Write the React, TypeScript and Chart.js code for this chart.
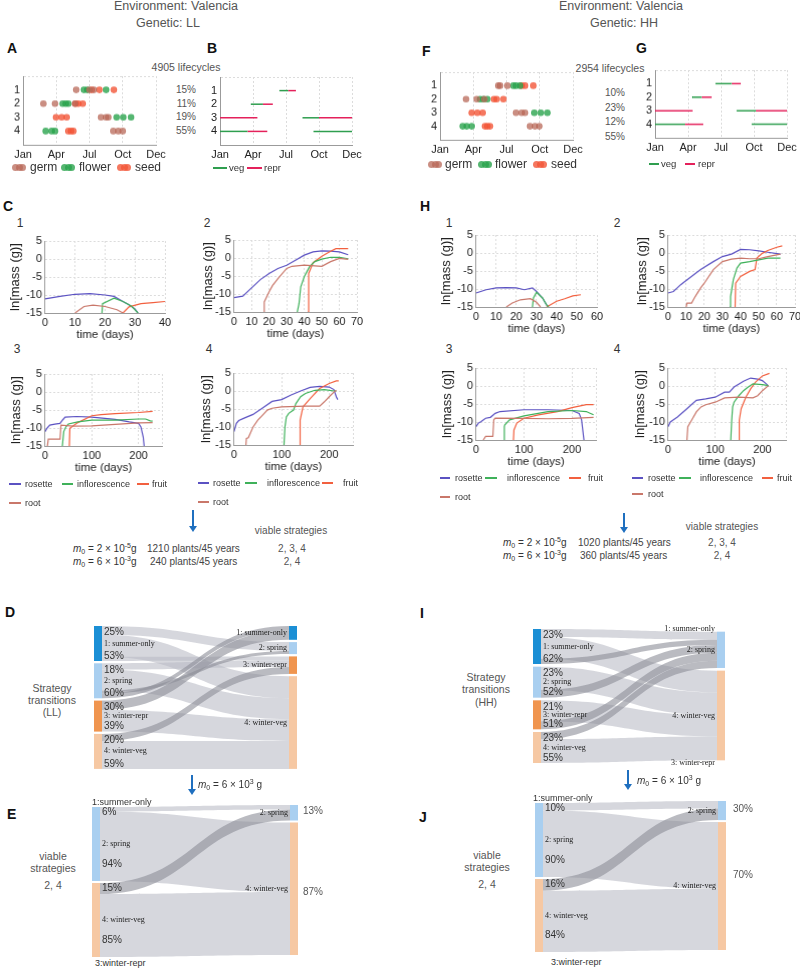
import React, { useEffect, useRef } from 'react';
import { Chart, registerables } from 'chart.js';

Chart.register(...registerables);
const SANS = '"Liberation Sans", Arial, Helvetica, sans-serif';
const SERIF = '"Liberation Serif", "Times New Roman", Times, serif';
Chart.defaults.font.family = SANS;

// ======================= DATA =======================
const MONTH_TICKS = [0, 3, 6, 9, 12];
const MONTH_LABELS = ['Jan', 'Apr', 'Jul', 'Oct', 'Dec'];
const ROW_TICKS = [0, 1, 2, 3, 4, 5];
const MASS_TICKS = [-15, -10, -5, 0, 5];

// Panel A (LL): month of germination / flowering / seed per strategy row (1..4)
const A_GERM = [[4.8, 6.0, 6.4], [1.84, 2.89, 4.69], [7.04, 7.49, 7.7], [8.15, 8.6, 9.0]];
const A_FLOWER = [[5.5, 5.8, 7.5], [3.58, 3.85, 4.09], [8.45, 9.05, 9.75], [2.05, 2.59, 2.89]];
const A_SEED = [[6.2, 6.9, 8.2], [4.75, 4.99, 5.39], [2.98, 3.49, 3.94], [4.09, 4.33, 4.54]];
const A_SHARE = ['15%', '11%', '19%', '55%'];
const A_COUNT = '4905 lifecycles';

// Panel F (HH)
const F_GERM = [[5.26, 5.42, 6.08], [2.35, 3.31, 4.0], [6.86, 7.37, 7.67], [8.12, 8.57, 8.96]];
const F_FLOWER = [[6.62, 6.86, 7.22], [3.61, 3.91, 4.27], [8.51, 9.09, 9.69], [2.05, 2.41, 2.86]];
const F_SEED = [[7.37, 7.67, 8.42], [4.87, 5.11, 5.72], [2.86, 3.37, 3.85], [4.06, 4.27, 4.51]];
const F_SHARE = ['10%', '23%', '12%', '55%'];
const F_COUNT = '2954 lifecycles';

// Panels B / G: [row, startMonth, endMonth]
const B_VEG = [[1, 5.4, 6.2], [2, 2.8, 3.9], [3, 7.5, 9.0], [4, 0, 2.5], [4, 8.5, 12]];
const B_REPR = [[1, 6.2, 6.9], [2, 3.9, 4.8], [3, 0, 3.4], [3, 9.0, 12], [4, 2.5, 4.3]];
const G_VEG = [[1, 5.5, 6.97], [2, 3.36, 4.24], [3, 7.42, 9.18], [4, 0, 2.73], [4, 8.79, 12]];
const G_REPR = [[1, 6.97, 7.8], [2, 4.24, 5.15], [3, 0, 3.42], [3, 9.18, 12], [4, 2.73, 4.39]];

// Panels C / H: [time (days), ln mass (g)]
const C1_ROSETTE = [[0, -11.1], [5, -10.4], [10, -9.8], [15, -9.6], [20, -10], [23, -10.4], [26, -11.8], [28, -12.7], [30, -13.9], [31, -15]];
const C1_ROOT = [[10, -15], [13, -13.2], [16, -12.8], [20, -13.2], [24, -14.1], [26, -15]];
const C1_INFL = [[19, -15], [19.2, -12.4], [23, -10.9], [26, -11.8], [29, -13.2], [31, -15]];
const C1_FRUIT = [[26, -15], [28, -13.3], [32, -12.4], [36, -12.1], [40, -11.8]];

const C2_ROSETTE = [[0, -11], [5, -10.6], [10, -8.3], [15, -6], [20, -4.3], [25, -2.9], [30, -2], [35, -0.6], [40, 0.8], [45, 1.7], [50, 2.0], [55, 1.9], [60, 1.7], [65, 0.9]];
const C2_ROOT = [[17, -15], [17.2, -12.2], [20, -9.4], [22, -7.6], [25, -5.7], [30, -2.9], [33, -2.3], [40, -2], [50, -2.3], [55, -1.0], [60, -0.1], [65, -0.4]];
const C2_INFL = [[36, -15], [37, -12.7], [38, -8], [40, -5.2], [43, -2.4], [46, -1], [50, -0.3], [55, 0.2], [60, 0.2], [65, -0.2]];
const C2_FRUIT = [[42, -15], [42.5, -4.3], [45, -1.3], [50, 0.5], [55, 1.9], [58, 2.6], [65, 2.6]];

const C3_ROSETTE = [[0, -11], [4, -10.1], [10, -9.2], [21, -8.9], [32, -8.7], [38, -7.7], [43, -7], [68, -6.8], [100, -7.0], [150, -7.6], [180, -8.3], [200, -8.7], [205, -9.7], [210, -12.5], [212, -15]];
const C3_ROOT = [[5, -15], [7, -13.1], [25, -13.1], [32, -13.1], [34, -9.2], [60, -9.5], [100, -9.4], [150, -9], [200, -8.6], [230, -8.5]];
const C3_INFL = [[37, -15], [40, -11], [45, -9.6], [50, -8.9], [70, -8.3], [100, -7.8], [150, -7.8], [200, -7.5], [215, -7.5], [225, -8.0], [230, -8.1]];
const C3_FRUIT = [[52, -15], [53, -10.1], [70, -8.5], [100, -6.6], [120, -6.3], [150, -6.0], [200, -5.7], [230, -5.4]];

const C4_ROSETTE = [[0, -11.3], [5, -9], [10, -8.2], [20, -7.6], [40, -6.5], [60, -4.7], [80, -2.9], [100, -2.4], [120, -1.1], [140, 0], [160, 1.0], [180, 1.3], [200, 1.1], [210, 0.4], [215, -1.6], [218, -2.4]];
const C4_ROOT = [[25, -15], [26, -13.2], [30, -13], [40, -10], [50, -8.1], [60, -6.7], [70, -5.3], [80, -4.8], [100, -4.4], [150, -4.2], [180, -4.2], [190, -3.0], [200, -1.6], [210, -0.3], [215, 0.2]];
const C4_INFL = [[105, -15], [107, -10], [110, -7.2], [115, -6.2], [125, -5.3], [130, -3.5], [140, -1.6], [150, -0.7], [170, 0.2], [190, 0.4], [210, 0], [215, 0]];
const C4_FRUIT = [[138, -15], [139, -8.1], [145, -4.4], [160, -2.1], [180, 0.7], [200, 2.1], [215, 2.8], [220, 2.8]];

const H1_ROSETTE = [[0, -11.1], [5, -10.2], [10, -9.7], [15, -9.6], [20, -9.7], [24, -10.2], [28, -9.7], [30, -10.7], [33, -12.5], [35, -14.4], [36, -15]];
const H1_ROOT = [[15, -15], [18, -13.9], [22, -13.0], [27, -12.7], [30, -13.7], [32, -15]];
const H1_INFL = [[28, -15], [28.5, -12.5], [30, -10.9], [33, -12.5], [35, -14.4], [36, -15]];
const H1_FRUIT = [[35, -15], [40, -13.4], [44, -12.7], [48, -11.9], [52, -11.6]];

const H2_ROSETTE = [[0, -11.1], [3, -10.7], [7, -8.8], [12, -6.9], [18, -4.6], [25, -2.4], [30, -1.0], [35, -0.3], [40, 1.0], [45, 0.9], [50, 0.6], [55, 0.2], [62, -0.3]];
const H2_ROOT = [[10, -15], [10.5, -13.9], [13, -13.9], [15, -12.1], [18, -9.7], [20, -8.4], [25, -4.6], [30, -2.4], [35, -1.7], [40, -1.4], [45, -1.6], [50, -1.6], [55, -1.0], [62, -0.3]];
const H2_INFL = [[34, -15], [34.5, -12.1], [36, -7.4], [38, -4.2], [40, -2.8], [45, -2.4], [50, -1.9], [55, -1.4], [62, -1.4]];
const H2_FRUIT = [[37, -15], [37.3, -8.4], [40, -6.5], [45, -5.1], [48, -4.6], [49, -1.4], [52, -0.1], [55, 0.7], [60, 1.6], [63, 2.0]];

const H3_ROSETTE = [[0, -11.3], [5, -10.3], [10, -9.9], [20, -8.95], [30, -8.7], [40, -7.6], [50, -7.1], [100, -6.6], [150, -6.6], [200, -6.8], [215, -7.6], [220, -9.4], [225, -15]];
const H3_ROOT = [[15, -15], [20, -14], [35, -14], [37, -9.4], [40, -8.95], [100, -9.0], [150, -9.1], [200, -9.0], [245, -8.7]];
const H3_INFL = [[58, -15], [59, -11.3], [60, -10.8], [70, -9.4], [100, -8.3], [150, -7.1], [200, -6.8], [230, -7.1], [240, -7.7], [245, -8.0]];
const H3_FRUIT = [[78, -15], [79, -12.2], [85, -10.3], [100, -8.95], [130, -8], [170, -7.1], [200, -6.0], [230, -5.2], [245, -5.2]];

const H4_ROSETTE = [[0, -11.3], [5, -10], [10, -9.5], [20, -8.6], [40, -6.3], [60, -4], [80, -3.6], [100, -3.1], [120, -1.7], [130, -1.7], [140, -0.3], [160, 1.3], [175, 2.2], [190, 1.9], [200, 1.5], [210, 0.4], [213, -0.1]];
const H4_ROOT = [[40, -15], [42, -11.3], [50, -9.5], [60, -7.2], [70, -5.8], [80, -5.2], [100, -4.5], [120, -3.3], [150, -3.1], [180, -3.3], [190, -2.7], [200, -1.3], [213, 0.1]];
const H4_INFL = [[133, -15], [135, -9.5], [137, -5.8], [140, -4.5], [150, -2.7], [160, -1.3], [170, -0.3], [180, 0.6], [200, 0.4], [213, 0.1]];
const H4_FRUIT = [[150, -15], [151, -9.5], [155, -6.3], [165, -3.1], [175, -0.8], [185, 1.0], [200, 2.8], [215, 3.5]];

// Sankey panels: flows [sourceStrategy, targetStrategy, share]
const STRATEGY_NAMES = ['1: summer-only', '2: spring', '3: winter-repr', '4: winter-veg'];
const D_FLOWS = [[0, 1, 8.8], [0, 3, 22.0], [0, 2, 4.2], [1, 2, 6.3], [1, 3, 21.0], [1, 1, 3.2], [1, 0, 4.5], [2, 0, 9.3], [2, 3, 21.7], [3, 2, 7.0], [3, 3, 28.0]];
const D_TOP_PCT = ['25%', '18%', '30%', '20%'];
const D_BOT_PCT = ['53%', '60%', '39%', '59%'];
const I_FLOWS = [[0, 1, 8.0], [0, 3, 21.7], [0, 1, 5.3], [1, 3, 23.2], [1, 1, 7.8], [2, 3, 20.9], [2, 1, 8.1], [3, 1, 7.1], [3, 3, 23.9]];
const I_TOP_PCT = ['23%', '23%', '21%', '23%'];
const I_BOT_PCT = ['62%', '52%', '51%', '55%'];
const E_FLOWS = [[1, 1, 4.4], [1, 3, 69.6], [3, 1, 11.1], [3, 3, 62.9]];
const E_TOP_PCT = ['', '6%', '', '15%'];
const E_BOT_PCT = ['', '94%', '', '85%'];
const E_RIGHT_PCT = ['13%', '87%'];
const J_FLOWS = [[1, 1, 7.4], [1, 3, 66.6], [3, 1, 11.7], [3, 3, 61.3]];
const J_TOP_PCT = ['', '10%', '', '16%'];
const J_BOT_PCT = ['', '90%', '', '84%'];
const J_RIGHT_PCT = ['30%', '70%'];

// ======================= STYLE =======================
const GERM_C = 'rgba(184,104,88,0.75)';
const FLOWER_C = 'rgba(42,164,78,0.8)';
const SEED_C = 'rgba(242,86,56,0.8)';
const VEG_C = '#2f9e4f';
const REPR_C = '#e4215b';
const ROSETTE_C = '#5b52c2';
const INFL_C = '#3fb15a';
const FRUIT_C = '#f2603f';
const ROOT_C = '#c9776a';
const NODE_COLORS = ['#1b8fd5', '#a9cff0', '#f0954f', '#f6c8a3'];
const GRID = '#dcdcdc';
const AXIS = '#9b9b9b';
const TXT = '#444';
const PT = 10;
const PR = 16;

type Box = { left: number; top: number; width: number; height: number };

function frame(pl: number, pt: number, pr: number, pb: number, yw: number, xh: number): Box {
  return { left: pl - yw, top: pt - PT, width: pr - pl + yw + PR, height: pb - pt + PT + xh };
}

function linAxis(o: any) {
  return {
    type: 'linear',
    min: o.min,
    max: o.max,
    reverse: !!o.reverse,
    afterBuildTicks: (s: any) => { s.ticks = o.ticks.map((v: number) => ({ value: v })); },
    afterFit: (s: any) => { if (o.horizontal) s.height = o.size; else s.width = o.size; },
    ticks: {
      autoSkip: false, maxRotation: 0, padding: 3, color: '#222', font: { size: 11 },
      callback: (v: number) => (o.labels ? o.labels(v) : String(v)),
    },
    grid: {
      drawTicks: false, lineWidth: 1,
      color: (c: any) => (o.gridWhen && !o.gridWhen(c.tick ? c.tick.value : 0) ? 'rgba(0,0,0,0)' : GRID),
    },
    border: { display: true, color: AXIS, width: 1, dash: [2, 2] },
    title: o.title
      ? { display: true, text: o.title.text, color: '#222', font: { size: o.title.size }, padding: { top: 4, bottom: 4 } }
      : { display: false },
  };
}

function cartesian(datasets: any[], x: any, y: any) {
  return {
    type: 'scatter',
    data: { datasets },
    options: {
      responsive: false,
      animation: false,
      events: [],
      layout: { padding: { top: PT, right: PR, left: 0, bottom: 0 } },
      scales: { x, y },
      plugins: { legend: { display: false }, tooltip: { enabled: false } },
    },
  };
}

function ChartCanvas({ box, build }: { box: Box; build: () => any }) {
  const ref = useRef<HTMLCanvasElement>(null);
  useEffect(() => {
    const chart = new Chart(ref.current as HTMLCanvasElement, build());
    return () => chart.destroy();
  }, []);
  return (
    <div style={{ position: 'absolute', left: box.left, top: box.top, width: box.width, height: box.height }}>
      <canvas ref={ref} width={box.width} height={box.height} style={{ width: box.width, height: box.height, display: 'block' }} />
    </div>
  );
}

// ---- Phenology panels ----
function monthAxis() {
  return linAxis({ min: 0, max: 12, ticks: MONTH_TICKS, labels: (v: number) => MONTH_LABELS[MONTH_TICKS.indexOf(v)] || '', horizontal: true, size: 20 });
}
function rowAxis() {
  return linAxis({ min: 0, max: 5, reverse: true, ticks: ROW_TICKS, labels: (v: number) => (v >= 1 && v <= 4 ? String(v) : ''), horizontal: false, size: 20, gridWhen: (v: number) => v === 0 });
}
function dotsConfig(germ: number[][], flower: number[][], seed: number[][]) {
  const mk = (arr: number[][], color: string) => ({
    data: arr.flatMap((row, i) => row.map((x) => ({ x, y: i + 1 }))),
    backgroundColor: color, borderWidth: 0, pointRadius: 3.3, showLine: false,
  });
  return cartesian([mk(germ, GERM_C), mk(flower, FLOWER_C), mk(seed, SEED_C)], monthAxis(), rowAxis());
}
function phaseConfig(veg: number[][], repr: number[][]) {
  const mk = (s: number[], color: string) => ({
    data: [{ x: s[1], y: s[0] }, { x: s[2], y: s[0] }],
    showLine: true, borderColor: color, borderWidth: 1.5, pointRadius: 0, borderCapStyle: 'butt',
  });
  return cartesian([...veg.map((s) => mk(s, VEG_C)), ...repr.map((s) => mk(s, REPR_C))], monthAxis(), rowAxis());
}

// ---- Growth panels ----
function growthConfig(rosette: number[][], infl: number[][], fruit: number[][], root: number[][], xMax: number, xTicks: number[], yw: number, xh: number) {
  const mk = (pts: number[][], color: string) => ({
    data: pts.map(([x, y]) => ({ x, y })), showLine: true, borderColor: color, borderWidth: 1.2, pointRadius: 0, tension: 0,
  });
  const x = linAxis({ min: 0, max: xMax, ticks: xTicks, labels: (v: number) => (v === xMax && xMax === 250 ? '' : String(v)), horizontal: true, size: xh, title: { text: 'time (days)', size: 11.5 } });
  const y = linAxis({ min: -15, max: 5, ticks: MASS_TICKS, horizontal: false, size: yw, title: { text: 'ln[mass (g)]', size: 13 } });
  return cartesian([mk(root, ROOT_C), mk(infl, INFL_C), mk(fruit, FRUIT_C), mk(rosette, ROSETTE_C)], x, y);
}

// ---- Sankey panels ----
type SankeySpec = {
  flows: number[][]; leftOrder: number[]; rightOrder: number[]; gap: number;
  leftNames: string[]; rightNames: string[]; topPct: string[]; botPct: string[]; mode: 'stack' | 'spread';
};
const SP = 12;
const NW = 8;
function sankeyExtent(sk: SankeySpec) {
  const out = [0, 0, 0, 0], inn = [0, 0, 0, 0];
  sk.flows.forEach(([s, t, v]) => { out[s] += v; inn[t] += v; });
  const l = sk.leftOrder.reduce((a, id) => a + out[id], 0) + sk.gap * (sk.leftOrder.length - 1);
  const r = sk.rightOrder.reduce((a, id) => a + inn[id], 0) + sk.gap * (sk.rightOrder.length - 1);
  return Math.max(l, r);
}
function drawSankey(chart: any, sk: SankeySpec) {
  const ctx = chart.ctx;
  const xs = chart.scales.x, ys = chart.scales.y;
  const xL = xs.getPixelForValue(0), xR = xs.getPixelForValue(1);
  const out = [0, 0, 0, 0], inn = [0, 0, 0, 0];
  sk.flows.forEach(([s, t, v]) => { out[s] += v; inn[t] += v; });
  const lTop: number[] = [0, 0, 0, 0], rTop: number[] = [0, 0, 0, 0];
  let acc = 0;
  sk.leftOrder.forEach((id, i) => { if (i) acc += sk.gap; lTop[id] = acc; acc += out[id]; });
  acc = 0;
  sk.rightOrder.forEach((id, i) => { if (i) acc += sk.gap; rTop[id] = acc; acc += inn[id]; });
  const sCur = lTop.slice(), tCur = rTop.slice();
  const sStart: number[] = [], tStart: number[] = [];
  sk.flows.forEach(([s, , v], k) => { sStart[k] = sCur[s]; sCur[s] += v; });
  sk.flows.map((_, k) => k)
    .sort((a, b) => (sk.leftOrder.indexOf(sk.flows[a][0]) - sk.leftOrder.indexOf(sk.flows[b][0])) || a - b)
    .forEach((k) => { const t = sk.flows[k][1], v = sk.flows[k][2]; tStart[k] = tCur[t]; tCur[t] += v; });
  const Y = (v: number) => ys.getPixelForValue(v);
  const x0 = xL + NW, x1 = xR - NW, xm = (x0 + x1) / 2;
  ctx.save();
  sk.flows.forEach(([, , v], k) => {
    const a0 = Y(sStart[k]), a1 = Y(sStart[k] + v), b0 = Y(tStart[k]), b1 = Y(tStart[k] + v);
    ctx.beginPath();
    ctx.moveTo(x0, a0);
    ctx.bezierCurveTo(xm, a0, xm, b0, x1, b0);
    ctx.lineTo(x1, b1);
    ctx.bezierCurveTo(xm, b1, xm, a1, x0, a1);
    ctx.closePath();
    const rise = (a0 + a1) / 2 - (b0 + b1) / 2;
    ctx.fillStyle = rise > 12 ? 'rgba(140,142,152,0.6)' : 'rgba(184,186,197,0.58)';
    ctx.fill();
  });
  sk.leftOrder.forEach((id) => {
    if (out[id] > 0) { ctx.fillStyle = NODE_COLORS[id]; ctx.fillRect(xL, Y(lTop[id]), NW, Y(lTop[id] + out[id]) - Y(lTop[id])); }
  });
  sk.rightOrder.forEach((id) => {
    if (inn[id] > 0) { ctx.fillStyle = NODE_COLORS[id]; ctx.fillRect(xR - NW, Y(rTop[id]), NW, Y(rTop[id] + inn[id]) - Y(rTop[id])); }
  });
  ctx.textBaseline = 'middle';
  sk.leftOrder.forEach((id) => {
    const top = Y(lTop[id]), bot = Y(lTop[id] + out[id]), mid = (top + bot) / 2;
    const tx = xL + NW + 2;
    ctx.textAlign = 'left';
    if (sk.leftNames[id]) { ctx.fillStyle = '#222'; ctx.font = `8px ${SERIF}`; ctx.fillText(sk.leftNames[id], tx, mid); }
    ctx.fillStyle = '#333';
    ctx.font = `10px ${SANS}`;
    if (sk.topPct[id]) ctx.fillText(sk.topPct[id], tx, top + (sk.mode === 'stack' ? 6.5 : 5));
    if (sk.botPct[id]) ctx.fillText(sk.botPct[id], tx, sk.mode === 'stack' ? bot - 5 : mid + 20);
  });
  sk.rightOrder.forEach((id) => {
    if (!sk.rightNames[id]) return;
    const top = Y(rTop[id]), bot = Y(rTop[id] + inn[id]);
    ctx.textAlign = 'right';
    ctx.fillStyle = '#222';
    ctx.font = `8px ${SERIF}`;
    ctx.fillText(sk.rightNames[id], xR - NW - 2, (top + bot) / 2);
  });
  ctx.restore();
}
function Sankey({ xL, xR, yTop, spec }: { xL: number; xR: number; yTop: number; spec: SankeySpec }) {
  const ext = sankeyExtent(spec);
  const box = { left: xL - SP, top: yTop - SP, width: xR - xL + 2 * SP, height: Math.round(ext) + 2 * SP };
  const build = () => ({
    type: 'scatter',
    data: { datasets: [{ data: [] }] },
    options: {
      responsive: false, animation: false, events: [],
      layout: { padding: SP },
      scales: {
        x: { type: 'linear', min: 0, max: 1, display: false },
        y: { type: 'linear', min: 0, max: Math.round(ext), reverse: true, display: false },
      },
      plugins: { legend: { display: false }, tooltip: { enabled: false } },
    },
    plugins: [{ id: 'sankey', afterDatasetsDraw: (c: any) => drawSankey(c, spec) }],
  });
  return <ChartCanvas box={box} build={build} />;
}

// ---- HTML text helpers ----
function Tx({ x, y, s, size = 11, align = 'left', color = TXT, bold = false, family = SANS }: any) {
  return (
    <div style={{
      position: 'absolute', left: x, top: y - size * 0.6, fontSize: size, lineHeight: `${size * 1.2}px`,
      transform: align === 'center' ? 'translateX(-50%)' : align === 'right' ? 'translateX(-100%)' : undefined,
      whiteSpace: 'nowrap', color, fontFamily: family, fontWeight: bold ? 700 : 400,
    }}>{s}</div>
  );
}
function M0({ x, y, mant, exp, space = false }: any) {
  return (
    <div style={{ position: 'absolute', left: x, top: y - 6, fontSize: 10, lineHeight: '12px', color: '#333', fontFamily: SANS, whiteSpace: 'nowrap' }}>
      <i>m</i><span style={{ fontSize: 7, position: 'relative', top: 2 }}>0</span> = {mant} × 10<span style={{ fontSize: 7, position: 'relative', top: -4 }}>{exp}</span>{space ? ' g' : 'g'}
    </div>
  );
}
function Arrow({ x, y0, y1 }: any) {
  return (
    <>
      <div style={{ position: 'absolute', left: x - 1, top: y0, width: 2, height: y1 - y0 - 5, background: '#1f6fbf' }} />
      <div style={{ position: 'absolute', left: x - 4, top: y1 - 6, width: 0, height: 0, borderLeft: '4px solid transparent', borderRight: '4px solid transparent', borderTop: '6px solid #1f6fbf' }} />
    </>
  );
}
function LineKey({ x, w, y, color, label, tx, size = 9 }: any) {
  return (
    <>
      <div style={{ position: 'absolute', left: x, top: y - 0.75, width: w, height: 1.5, background: color }} />
      <Tx x={tx} y={y} s={label} size={size} color="#333" />
    </>
  );
}
function DotKey({ x, y, color, label, tx }: any) {
  return (
    <>
      {[0, 1, 2].map((i) => (
        <div key={i} style={{ position: 'absolute', left: x + i * 3.5, top: y - 3.5, width: 7, height: 7, borderRadius: '50%', background: color }} />
      ))}
      <Tx x={tx} y={y} s={label} size={12} color="#333" />
    </>
  );
}

const STEP10 = (max: number) => Array.from({ length: max / 10 + 1 }, (_, i) => i * 10);

export default function App() {
  const yw = (off: number) => off + 11.8;
  const XH = 33;
  const growth = [
    { f: frame(45, 241, 165, 313, yw(29), XH), c: () => growthConfig(C1_ROSETTE, C1_INFL, C1_FRUIT, C1_ROOT, 40, STEP10(40), yw(29), XH) },
    { f: frame(234, 240, 357, 312, yw(25), XH), c: () => growthConfig(C2_ROSETTE, C2_INFL, C2_FRUIT, C2_ROOT, 70, STEP10(70), yw(25), XH) },
    { f: frame(45, 374, 162, 446, yw(28), XH), c: () => growthConfig(C3_ROSETTE, C3_INFL, C3_FRUIT, C3_ROOT, 250, [0, 100, 200, 250], yw(28), XH) },
    { f: frame(234, 373, 353, 445, yw(27), XH), c: () => growthConfig(C4_ROSETTE, C4_INFL, C4_FRUIT, C4_ROOT, 250, [0, 100, 200, 250], yw(27), XH) },
    { f: frame(476, 235, 597, 307, yw(29), XH), c: () => growthConfig(H1_ROSETTE, H1_INFL, H1_FRUIT, H1_ROOT, 60, STEP10(60), yw(29), XH) },
    { f: frame(668, 235, 795, 307, yw(25), XH), c: () => growthConfig(H2_ROSETTE, H2_INFL, H2_FRUIT, H2_ROOT, 70, STEP10(70), yw(25), XH) },
    { f: frame(476, 368, 596, 440, yw(28), XH), c: () => growthConfig(H3_ROSETTE, H3_INFL, H3_FRUIT, H3_ROOT, 250, [0, 100, 200, 250], yw(28), XH) },
    { f: frame(668, 368, 786, 440, yw(27), XH), c: () => growthConfig(H4_ROSETTE, H4_INFL, H4_FRUIT, H4_ROOT, 250, [0, 100, 200, 250], yw(27), XH) },
  ];
  const dSpec: SankeySpec = { flows: D_FLOWS, leftOrder: [0, 1, 2, 3], rightOrder: [0, 1, 2, 3], gap: 2.3, leftNames: STRATEGY_NAMES, rightNames: STRATEGY_NAMES, topPct: D_TOP_PCT, botPct: D_BOT_PCT, mode: 'stack' };
  const iSpec: SankeySpec = { flows: I_FLOWS, leftOrder: [0, 1, 2, 3], rightOrder: [0, 1, 3, 2], gap: 2.67, leftNames: STRATEGY_NAMES, rightNames: STRATEGY_NAMES, topPct: I_TOP_PCT, botPct: I_BOT_PCT, mode: 'stack' };
  const viableNames = ['', STRATEGY_NAMES[1], '', STRATEGY_NAMES[3]];
  const eSpec: SankeySpec = { flows: E_FLOWS, leftOrder: [0, 1, 3, 2], rightOrder: [1, 3], gap: 2, leftNames: viableNames, rightNames: viableNames, topPct: E_TOP_PCT, botPct: E_BOT_PCT, mode: 'spread' };
  const jSpec: SankeySpec = { flows: J_FLOWS, leftOrder: [0, 1, 3, 2], rightOrder: [1, 3], gap: 2, leftNames: viableNames, rightNames: viableNames, topPct: J_TOP_PCT, botPct: J_BOT_PCT, mode: 'spread' };

  const growthKeys = (cfg: any) => (
    <>
      <LineKey x={cfg.r[0]} w={cfg.r[1]} y={cfg.y1} color={ROSETTE_C} label="rosette" tx={cfg.r[2]} />
      <LineKey x={cfg.i[0]} w={cfg.i[1]} y={cfg.y1} color={INFL_C} label="inflorescence" tx={cfg.i[2]} />
      <LineKey x={cfg.f[0]} w={cfg.f[1]} y={cfg.y1} color={FRUIT_C} label="fruit" tx={cfg.f[2]} />
      <LineKey x={cfg.r[0]} w={cfg.r[1]} y={cfg.y2} color={ROOT_C} label="root" tx={cfg.r[2]} />
    </>
  );

  return (
    <div style={{ position: 'absolute', left: 0, top: 0, width: 800, height: 969, overflow: 'hidden', background: '#fff', fontFamily: SANS }}>
      {/* headers */}
      <Tx x={176} y={6} s="Environment: Valencia" size={12.5} align="center" color="#555" />
      <Tx x={168} y={23} s="Genetic: LL" size={12.5} align="center" color="#555" />
      <Tx x={621} y={6} s="Environment: Valencia" size={12.5} align="center" color="#555" />
      <Tx x={624} y={23} s="Genetic: HH" size={12.5} align="center" color="#555" />

      {/* panel letters */}
      {[['A', 7, 48], ['B', 207, 48], ['F', 422, 51], ['G', 636, 48], ['C', 3, 206], ['H', 420, 206], ['D', 5, 612], ['I', 420, 613], ['E', 7, 814], ['J', 419, 817]].map(([l, x, y]) => (
        <Tx key={l as string} x={x} y={y} s={l} size={14} bold color="#111" />
      ))}

      {/* A / B / F / G */}
      <Tx x={186} y={67} s={A_COUNT} size={10.5} align="center" color="#555" />
      <Tx x={610} y={68} s={F_COUNT} size={10.5} align="center" color="#555" />
      <ChartCanvas box={frame(23, 76.3, 156, 144.6, 20, 20)} build={() => dotsConfig(A_GERM, A_FLOWER, A_SEED)} />
      <ChartCanvas box={frame(220, 77, 352, 145, 20, 20)} build={() => phaseConfig(B_VEG, B_REPR)} />
      <ChartCanvas box={frame(440, 72.4, 573, 140, 20, 20)} build={() => dotsConfig(F_GERM, F_FLOWER, F_SEED)} />
      <ChartCanvas box={frame(655, 70.4, 787, 138, 20, 20)} build={() => phaseConfig(G_VEG, G_REPR)} />
      {A_SHARE.map((s, i) => <Tx key={'a' + i} x={196} y={76.3 + 13.67 * (i + 1)} s={s} size={10} align="right" color="#555" />)}
      {F_SHARE.map((s, i) => <Tx key={'f' + i} x={625} y={78.5 + 14.5 * (i + 1)} s={s} size={10} align="right" color="#555" />)}

      <DotKey x={12} y={167} color={GERM_C} label="germ" tx={30} />
      <DotKey x={61} y={167} color={FLOWER_C} label="flower" tx={79} />
      <DotKey x={117} y={167} color={SEED_C} label="seed" tx={135} />
      <LineKey x={213} w={14} y={168} color={VEG_C} label="veg" tx={229} size={9.5} />
      <LineKey x={247} w={15} y={168} color={REPR_C} label="repr" tx={264} size={9.5} />
      <DotKey x={428} y={164} color={GERM_C} label="germ" tx={445} />
      <DotKey x={478} y={164} color={FLOWER_C} label="flower" tx={495} />
      <DotKey x={533} y={164} color={SEED_C} label="seed" tx={551} />
      <LineKey x={649} w={10} y={164} color={VEG_C} label="veg" tx={661} size={9.5} />
      <LineKey x={685} w={10} y={164} color={REPR_C} label="repr" tx={698} size={9.5} />

      {/* C / H growth */}
      {[['1', 20, 223], ['2', 207, 223], ['3', 17, 349], ['4', 209, 349], ['1', 449, 223], ['2', 617, 223], ['3', 449, 349], ['4', 617, 349]].map(([l, x, y], i) => (
        <Tx key={'n' + i} x={x} y={y} s={l} size={12} align="center" color="#333" />
      ))}
      {growth.map((g, i) => <ChartCanvas key={'g' + i} box={g.f} build={g.c} />)}
      {growthKeys({ y1: 484, y2: 503, r: [9, 12, 25], i: [62, 11, 77], f: [137, 12, 152] })}
      {growthKeys({ y1: 483, y2: 502, r: [198, 11, 213], i: [245, 12, 267], f: [322, 11, 343] })}
      {growthKeys({ y1: 478, y2: 497, r: [440, 10, 455], i: [485, 12, 507], f: [569, 12, 588] })}
      {growthKeys({ y1: 478, y2: 494, r: [632, 11, 648], i: [679, 12, 700], f: [762, 11, 777] })}

      {/* m0 blocks */}
      <Arrow x={193} y0={510} y1={532} />
      <Tx x={291} y={531} s="viable strategies" size={10} align="center" color="#555" />
      <M0 x={73} y={549} mant="2" exp="-5" />
      <Tx x={147} y={549} s="1210 plants/45 years" size={10} color="#444" />
      <Tx x={292} y={549} s="2, 3, 4" size={10} align="center" color="#555" />
      <M0 x={73} y={562} mant="6" exp="-3" />
      <Tx x={150} y={562} s="240 plants/45 years" size={10} color="#444" />
      <Tx x={292} y={562} s="2, 4" size={10} align="center" color="#555" />

      <Arrow x={624} y0={513} y1={533} />
      <Tx x={722} y={527} s="viable strategies" size={10} align="center" color="#555" />
      <M0 x={503} y={543} mant="2" exp="-5" />
      <Tx x={578} y={543} s="1020 plants/45 years" size={10} color="#444" />
      <Tx x={722} y={543} s="2, 3, 4" size={10} align="center" color="#555" />
      <M0 x={503} y={556} mant="6" exp="-3" />
      <Tx x={580} y={556} s="360 plants/45 years" size={10} color="#444" />
      <Tx x={722} y={556} s="2, 4" size={10} align="center" color="#555" />

      {/* D / I sankeys */}
      {['Strategy', 'transitions', '(LL)'].map((s, i) => <Tx key={'dl' + i} x={52} y={688 + 12 * i} s={s} size={10.5} align="center" color="#555" />)}
      {['Strategy', 'transitions', '(HH)'].map((s, i) => <Tx key={'il' + i} x={486} y={677 + 12.5 * i} s={s} size={10.5} align="center" color="#555" />)}
      <Sankey xL={94} xR={297} yTop={626} spec={dSpec} />
      <Sankey xL={533} xR={725} yTop={629} spec={iSpec} />

      {/* E / J sankeys */}
      <Arrow x={192} y0={775} y1={795} />
      <M0 x={198} y={785} mant="6" exp="3" space />
      <Arrow x={628} y0={770} y1={790} />
      <M0 x={637} y={781} mant="6" exp="3" space />
      {[['viable', 856], ['strategies', 868], ['2, 4', 885]].map(([s, y], i) => <Tx key={'ev' + i} x={53} y={y} s={s} size={10.5} align="center" color="#555" />)}
      {[['viable', 855], ['strategies', 867], ['2, 4', 884]].map(([s, y], i) => <Tx key={'jv' + i} x={487} y={y} s={s} size={10.5} align="center" color="#555" />)}
      <Tx x={92} y={802} s="1:summer-only" size={9} color="#333" />
      <Tx x={95} y={963} s="3:winter-repr" size={9} color="#333" />
      <Tx x={533} y={798} s="1:summer-only" size={9} color="#333" />
      <Tx x={551} y={962} s="3:winter-repr" size={9} color="#333" />
      <Sankey xL={92} xR={298} yTop={805} spec={eSpec} />
      <Sankey xL={535} xR={726} yTop={801} spec={jSpec} />
      <Tx x={303} y={811} s={E_RIGHT_PCT[0]} size={10} color="#555" />
      <Tx x={303} y={892} s={E_RIGHT_PCT[1]} size={10} color="#555" />
      <Tx x={733} y={809} s={J_RIGHT_PCT[0]} size={10} color="#555" />
      <Tx x={733} y={875} s={J_RIGHT_PCT[1]} size={10} color="#555" />
    </div>
  );
}
